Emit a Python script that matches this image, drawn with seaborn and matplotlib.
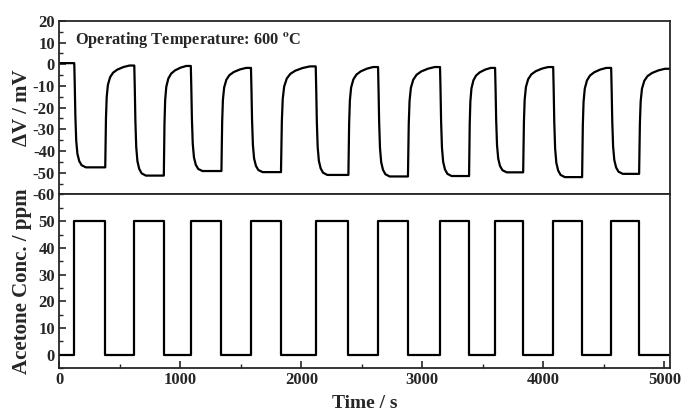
import numpy as np
import pandas as pd
import seaborn as sns
import matplotlib.pyplot as plt
from matplotlib.ticker import MultipleLocator

# switching times of the acetone pulses (s)
on_times = [124, 620, 1087, 1584, 2119, 2634, 3146, 3601, 4081, 4560]
off_times = [380, 864, 1340, 1832, 2389, 2881, 3386, 3833, 4320, 4791]
conc_on = 50
t_end = 5047

# response levels (mV)
v_start = 0.5
v_min = [-47.5, -51.3, -49.2, -49.7, -51.0, -51.7, -51.5, -49.8, -52.0, -50.5]
v_peak = [-0.6, -0.8, -1.7, -1.0, -1.3, -1.3, -1.7, -1.3, -1.7, -2.1]

# shape of one cycle (time after switch, fraction of step)
drop_dt = [0, 4, 9, 16, 26, 41, 61, 96]
drop_frac = [0, 0.2, 0.5, 0.74, 0.87, 0.94, 0.98, 1.0]
rise_dt = [0, 2, 6, 12, 22, 40, 65, 100, 150, 200]
rise_frac = [0, 0.16, 0.48, 0.69, 0.81, 0.885, 0.93, 0.96, 0.985, 1.0]

# build response trace
t_v = [0]
v = [v_start]
prev = v_start
for i in range(len(on_times)):
    for dt, f in zip(drop_dt, drop_frac):
        t_v.append(on_times[i] + dt)
        v.append(prev + (v_min[i] - prev) * f)
    t_v.append(off_times[i])
    v.append(v_min[i])
    nxt = on_times[i + 1] if i + 1 < len(on_times) else t_end
    for dt, f in zip(rise_dt, rise_frac):
        t_v.append(off_times[i] + dt * (nxt - off_times[i]) / 240)
        v.append(v_min[i] + (v_peak[i] - v_min[i]) * f)
    t_v.append(nxt)
    v.append(v_peak[i])
    prev = v_peak[i]
df_v = pd.DataFrame({"t": t_v, "v": v})

# build concentration step trace
t_c = [0]
c = [0]
for a, b in zip(on_times, off_times):
    t_c += [a, a, b, b]
    c += [0, conc_on, conc_on, 0]
t_c.append(t_end)
c.append(0)
df_c = pd.DataFrame({"t": t_c, "c": c})

sns.set_style("ticks")
plt.rcParams["font.family"] = ["Liberation Serif", "DejaVu Serif"]
plt.rcParams["font.weight"] = "bold"
plt.rcParams["mathtext.fontset"] = "stix"
plt.rcParams["axes.unicode_minus"] = False

fig, (ax1, ax2) = plt.subplots(2, 1, figsize=(6.81, 4.16), dpi=100, sharex=True)
fig.subplots_adjust(left=0.087, right=0.984, top=0.95, bottom=0.115, hspace=0)

sns.lineplot(data=df_v, x="t", y="v", ax=ax1, color="black", lw=1.6,
             sort=False, estimator=None)
sns.lineplot(data=df_c, x="t", y="c", ax=ax2, color="black", lw=1.6,
             sort=False, estimator=None)

ax1.set_ylim(-60, 20)
ax2.set_ylim(-5, 60)
ax2.set_xlim(0, t_end)

for ax in (ax1, ax2):
    for s in ax.spines.values():
        s.set_linewidth(1.3)
        s.set_visible(True)
    ax.tick_params(direction="in", length=5, width=1.2, labelsize=12,
                   right=False, top=False, pad=3)
    ax.tick_params(which="minor", direction="in", length=3, width=1.0,
                   right=False, top=False)

ax1.yaxis.set_major_locator(MultipleLocator(10))
ax1.yaxis.set_minor_locator(MultipleLocator(5))
ax2.yaxis.set_minor_locator(MultipleLocator(5))
ax2.set_yticks([0, 10, 20, 30, 40, 50])
ax2.xaxis.set_major_locator(MultipleLocator(1000))
ax2.xaxis.set_minor_locator(MultipleLocator(500))
ax1.tick_params(axis="x", which="both", bottom=False, labelbottom=False)

for ax in (ax1, ax2):
    for lab in ax.get_yticklabels() + ax.get_xticklabels():
        lab.set_fontweight("bold")

ax1.set_xlabel("")
ax1.set_ylabel("ΔV / mV", fontsize=15, fontweight="bold")
ax2.set_ylabel("Acetone Conc. / ppm", fontsize=15, fontweight="bold")
ax2.set_xlabel("Time / s", fontsize=14, fontweight="bold", labelpad=5)
ax1.yaxis.set_label_coords(-0.045, 0.5)
ax2.yaxis.set_label_coords(-0.045, 0.5)

ax1.text(0.026, 0.89, r"Operating Temperature: 600 $^{\mathbf{o}}$C",
         transform=ax1.transAxes, fontsize=11.8, fontweight="bold",
         va="center", ha="left")

plt.savefig("out.png", dpi=100)
